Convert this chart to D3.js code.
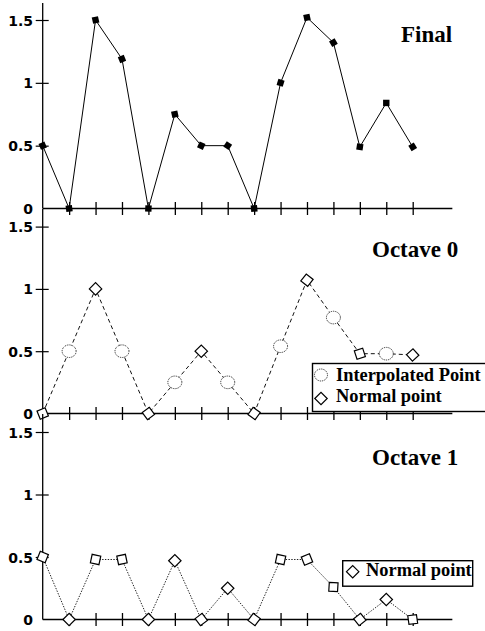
<!DOCTYPE html>
<html>
<head>
<meta charset="utf-8">
<script src="https://cdn.jsdelivr.net/npm/d3@7"></script>
<style>
  html, body { margin: 0; padding: 0; background: #fff; }
  svg { display: block; }
  .yaxis .tick text { font-family: "DejaVu Sans", sans-serif; font-weight: bold; font-size: 14px; fill: #000; }
  .title { font-family: "Liberation Serif", "Times New Roman", serif; font-weight: bold; font-size: 23px; fill: #000; }
  .legend text { font-family: "Liberation Serif", "Times New Roman", serif; font-weight: bold; font-size: 18.4px; fill: #000; }
</style>
</head>
<body>
<svg id="chart" width="485" height="631"></svg>
<script>
// Sample positions along the x axis
const steps = [0, 1, 2, 3, 4, 5, 6, 7, 8, 9, 10, 11, 12, 13, 14];
// Y axis ticks and their labels
const yTickValues = [0, 0.5, 1, 1.5];
const yTickLabels = ["0", "0.5", "1", "1.5"];
// Summed noise
const finalValues = [0.5, 0, 1.5, 1.19, 0, 0.75, 0.5, 0.5, 0, 1.0, 1.52, 1.32, 0.49, 0.84, 0.49];
// First octave: lattice values with midpoints interpolated between them
const octave0Values = [0, 0.5, 1, 0.5, 0, 0.25, 0.5, 0.25, 0, 0.54, 1.07, 0.77, 0.48, 0.48, 0.47];
const octave0Kinds = ["normal", "interp", "normal", "interp", "normal", "interp", "normal", "interp",
                      "normal", "interp", "normal", "interp", "normal", "interp", "normal"];
// Second octave: every sample is a lattice value
const octave1Values = [0.5, 0, 0.48, 0.48, 0, 0.47, 0, 0.25, 0, 0.48, 0.48, 0.26, 0, 0.16, 0];
const panelTitles = ["Final", "Octave 0", "Octave 1"];

const svg = d3.select("#chart");
svg.append("rect").attr("width", 485).attr("height", 631).attr("fill", "#fff");

const x = d3.scaleLinear().domain([0, 14]).range([42.7, 412.7]);
const xAxisEnd = 15.5;

const panels = [
  { values: finalValues, kinds: null, zeroY: 208.5, topY: 20, axisTop: 3,
    title: panelTitles[0], tx: 401, ty: 41.5, style: "final" },
  { values: octave0Values, kinds: octave0Kinds, zeroY: 413.5, topY: 226.6, axisTop: 209,
    title: panelTitles[1], tx: 372, ty: 256.5, style: "dashed" },
  { values: octave1Values, kinds: null, zeroY: 619.5, topY: 432, axisTop: 414,
    title: panelTitles[2], tx: 372, ty: 465, style: "dotted" }
];

// Orientation of a marker: bisector of the incoming and outgoing segment directions
function markerAngle(pts, i) {
  const ang = (a, b) => Math.atan2(b[1] - a[1], b[0] - a[0]) * 180 / Math.PI;
  if (i === 0) return ang(pts[0], pts[1]);
  if (i === pts.length - 1) return ang(pts[i - 1], pts[i]);
  return (ang(pts[i - 1], pts[i]) + ang(pts[i], pts[i + 1])) / 2;
}

const diamondPath = "M-6.2,0L0,-6.2L6.2,0L0,6.2Z";
const squarePath = "M-3.2,-3.2L3.2,-3.2L3.2,3.2L-3.2,3.2Z";

function interpMarker(sel) {
  return sel.attr("fill", "#fff").attr("stroke", "#222")
    .attr("stroke-width", 1).attr("stroke-dasharray", "1,0.9");
}

panels.forEach(p => {
  const y = d3.scaleLinear().domain([0, 1.5]).range([p.zeroY, p.topY]);
  const g = svg.append("g");

  // Vertical axis line
  g.append("line")
    .attr("x1", x(0)).attr("x2", x(0))
    .attr("y1", p.axisTop).attr("y2", y(0))
    .attr("stroke", "#000").attr("stroke-width", 1.3);

  // Horizontal axis line
  g.append("line")
    .attr("x1", x(0)).attr("x2", x(xAxisEnd))
    .attr("y1", y(0)).attr("y2", y(0))
    .attr("stroke", "#000").attr("stroke-width", 1.3);

  // Y ticks cross the axis; labels sit to the left
  const yAxis = d3.axisLeft(y)
    .tickValues(yTickValues)
    .tickFormat((d, i) => yTickLabels[i])
    .tickSize(7).tickSizeOuter(0).tickPadding(2.6);
  const ya = g.append("g").attr("class", "yaxis")
    .attr("transform", `translate(${x(0)},0)`)
    .call(yAxis);
  ya.select(".domain").remove();
  ya.selectAll(".tick line")
    .attr("x1", 6).attr("x2", -7)
    .attr("stroke", "#000").attr("stroke-width", 1.2)
    .attr("display", d => d === 0 ? "none" : null);
  ya.selectAll(".tick text").attr("dy", "0.36em");

  // X ticks cross the axis
  const xAxis = d3.axisBottom(x)
    .tickValues(steps.slice(1))
    .tickFormat("")
    .tickSizeOuter(0);
  const xa = g.append("g")
    .attr("transform", `translate(0,${y(0)})`)
    .call(xAxis);
  xa.select(".domain").remove();
  xa.selectAll(".tick line")
    .attr("y1", -6.5).attr("y2", 6.5)
    .attr("stroke", "#000").attr("stroke-width", 1.3);

  // Series line
  const pts = p.values.map((v, i) => [x(steps[i]), y(v)]);
  const line = d3.line().x((d, i) => x(steps[i])).y(d => y(d));
  const path = g.append("path")
    .datum(p.values)
    .attr("d", line)
    .attr("fill", "none")
    .attr("stroke-width", 1);
  if (p.style === "final") path.attr("stroke", "#000");
  if (p.style === "dashed") path.attr("stroke", "#111").attr("stroke-dasharray", "4,3");
  if (p.style === "dotted") path.attr("stroke", "#222").attr("stroke-dasharray", "1.4,1.4");

  // Markers
  p.values.forEach((v, i) => {
    const cx = x(steps[i]), cy = y(v);
    const kind = p.kinds ? p.kinds[i] : "normal";
    if (kind === "interp") {
      interpMarker(g.append("ellipse")
        .attr("cx", cx).attr("cy", cy).attr("rx", 7).attr("ry", 6.3));
    } else if (p.style === "final") {
      g.append("path")
        .attr("d", squarePath)
        .attr("transform", `translate(${cx},${cy}) rotate(${markerAngle(pts, i)})`)
        .attr("fill", "#000");
    } else {
      g.append("path")
        .attr("d", diamondPath)
        .attr("transform", `translate(${cx},${cy}) rotate(${markerAngle(pts, i)})`)
        .attr("fill", "#fff").attr("stroke", "#000").attr("stroke-width", 1.2);
    }
  });

  // Panel title
  g.append("text").attr("class", "title")
    .attr("x", p.tx).attr("y", p.ty).text(p.title);
});

// Legend for the first octave
const leg0 = svg.append("g").attr("class", "legend");
leg0.append("rect")
  .attr("x", 312.5).attr("y", 363.5).attr("width", 180).attr("height", 48)
  .attr("fill", "#fff").attr("stroke", "#000").attr("stroke-width", 1.4);
interpMarker(leg0.append("ellipse")
  .attr("cx", 321).attr("cy", 375).attr("rx", 6.5).attr("ry", 6));
leg0.append("path").attr("d", diamondPath)
  .attr("transform", "translate(321,398.5)")
  .attr("fill", "#fff").attr("stroke", "#000").attr("stroke-width", 1.2);
leg0.append("text").attr("x", 336).attr("y", 380.5).text("Interpolated Point");
leg0.append("text").attr("x", 336).attr("y", 402).text("Normal point");

// Legend for the second octave
const leg1 = svg.append("g").attr("class", "legend");
leg1.append("rect")
  .attr("x", 342.7).attr("y", 560.7).attr("width", 130).attr("height", 25.5)
  .attr("fill", "#fff").attr("stroke", "#000").attr("stroke-width", 1.4);
leg1.append("path").attr("d", diamondPath)
  .attr("transform", "translate(352.7,571.7)")
  .attr("fill", "#fff").attr("stroke", "#000").attr("stroke-width", 1.2);
leg1.append("text").attr("x", 366).attr("y", 576).text("Normal point");
</script>
</body>
</html>
